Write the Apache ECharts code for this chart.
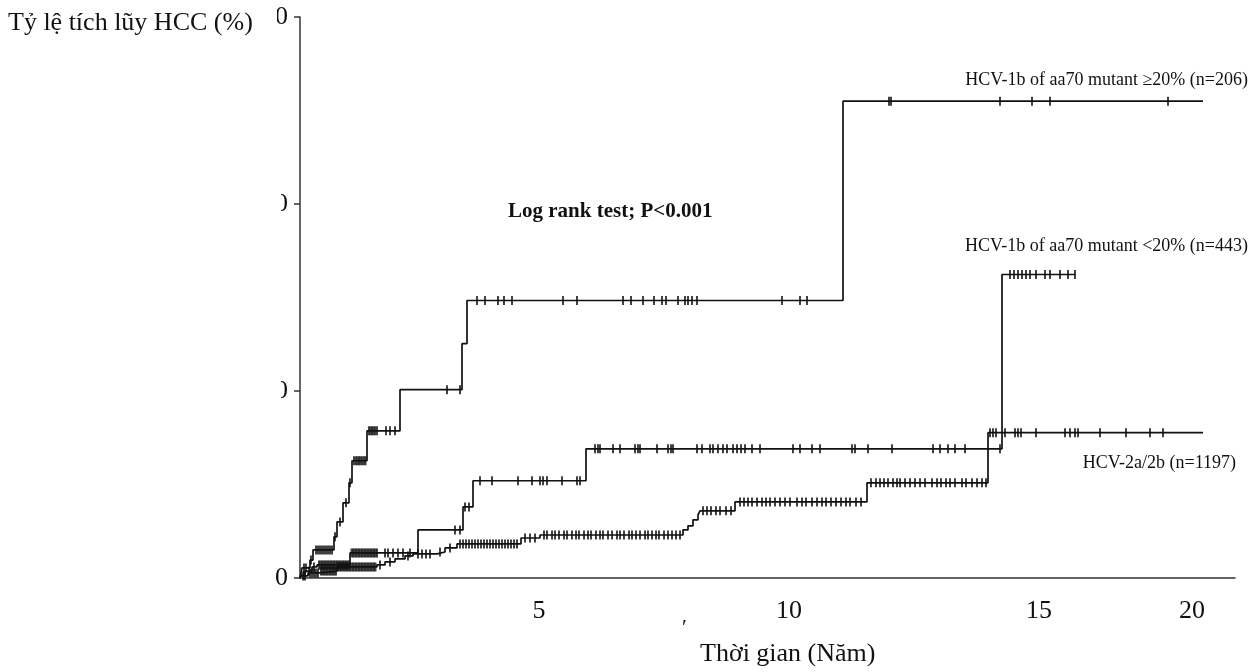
<!DOCTYPE html>
<html><head><meta charset="utf-8">
<script src="https://cdn.jsdelivr.net/npm/echarts@6/dist/echarts.min.js"></script>
<style>html,body{margin:0;padding:0;background:#fff}#c{width:1256px;height:672px}</style>
</head><body><div id="c"></div><script>
// ---- tick labels ----
const xTickValues = [5, 10, 15, 18.06];
const xTickLabels = ['5', '10', '15', '20'];
const yTickValues = [0, 10, 20, 30];

// ---- Kaplan-Meier steps (time in years, cumulative HCC %) ----
const stepTimeA = [0.22, 0.26, 0.42, 0.48, 0.90, 0.96, 1.08, 1.20, 1.26, 1.56, 2.22, 3.46, 3.56, 11.08, 18.28];
const stepPctA  = [0, 0.54, 0.96, 1.50, 2.20, 3.00, 4.02, 5.09, 6.27, 7.87, 10.07, 12.53, 14.84, 25.50, 25.50];

const stepTimeB = [0.22, 0.24, 0.32, 0.46, 0.56, 1.22, 2.58, 3.48, 3.68, 5.94, 14.26, 15.72];
const stepPctB  = [0, 0.16, 0.37, 0.59, 0.70, 1.34, 2.57, 3.80, 5.20, 6.91, 16.23, 16.23];

const stepTimeC = [0.22, 0.24, 0.38, 0.62, 0.96, 1.76, 1.92, 2.12, 2.32, 2.48, 2.96, 3.12, 3.36, 4.64, 5.02, 7.88, 7.98, 8.08, 8.18, 8.22, 8.92, 11.56, 13.98, 18.28];
const stepPctC  = [0, 0.11, 0.27, 0.37, 0.59, 0.70, 0.86, 1.02, 1.18, 1.29, 1.39, 1.61, 1.82, 2.14, 2.30, 2.57, 2.79, 3.11, 3.37, 3.59, 4.07, 5.09, 7.77, 7.77];

// ---- censored times ----
const censorA = [0.30, 0.34, 0.44, 0.54, 0.58, 0.62, 0.66, 0.70, 0.74, 0.78, 0.82, 0.86, 0.92, 1.02, 1.14, 1.22,
  1.30, 1.34, 1.37, 1.40, 1.43, 1.46, 1.50, 1.53,
  1.60, 1.63, 1.66, 1.69, 1.72, 1.76, 1.94, 2.02, 2.12, 3.16, 3.42,
  3.76, 3.92, 4.18, 4.30, 4.46, 5.48, 5.76, 6.68, 6.84, 7.08, 7.30, 7.46, 7.54, 7.78, 7.92, 7.98, 8.06, 8.16, 9.86, 10.22, 10.36,
  12.00, 12.04, 14.22, 14.86, 15.22, 17.58];
const censorB = [0.30, 0.40, 0.50, 0.60, 0.63, 0.66, 0.69, 0.72, 0.75, 0.78, 0.81, 0.84, 0.87, 0.90, 0.93, 0.96, 0.99, 1.02, 1.05, 1.08, 1.11, 1.14, 1.17, 1.20,
  1.25, 1.28, 1.31, 1.34, 1.37, 1.40, 1.43, 1.46, 1.49, 1.52, 1.55, 1.58, 1.61, 1.64, 1.67, 1.70, 1.73, 1.76, 1.92, 1.98, 2.08, 2.18, 2.28, 2.42,
  3.32, 3.42, 3.52, 3.60,
  3.82, 4.06, 4.58, 4.86, 5.02, 5.08, 5.16, 5.46, 5.76, 5.82,
  6.12, 6.18, 6.22, 6.48, 6.62, 6.92, 6.98, 7.02, 7.36, 7.58, 7.64, 7.68, 8.16, 8.26, 8.42, 8.48, 8.58, 8.68, 8.76, 8.88, 8.96, 9.04, 9.12, 9.26, 9.42,
  10.08, 10.22, 10.46, 10.62, 11.26, 11.32, 11.58, 12.06, 12.88, 13.02, 13.18, 13.32, 13.52, 14.22,
  14.42, 14.50, 14.58, 14.66, 14.74, 14.82, 14.94, 15.12, 15.22, 15.42, 15.58, 15.72];
const censorC = [0.28, 0.32, 0.42, 0.46, 0.50, 0.54, 0.58, 0.64, 0.67, 0.70, 0.73, 0.76, 0.79, 0.82, 0.85, 0.88, 0.91, 0.94,
  0.98, 1.01, 1.04, 1.07, 1.10, 1.13, 1.16, 1.19, 1.22, 1.25, 1.28, 1.31, 1.34, 1.37, 1.40, 1.43, 1.46, 1.49, 1.52, 1.55, 1.58, 1.61, 1.64, 1.67, 1.70, 1.73,
  1.82, 2.02, 2.38, 2.58, 2.66, 2.74, 2.82, 3.02, 3.22,
  3.42, 3.48, 3.54, 3.60, 3.66, 3.72, 3.78, 3.84, 3.90, 3.96, 4.02, 4.08, 4.14, 4.20, 4.26, 4.32, 4.38, 4.44, 4.50, 4.56,
  4.72, 4.82, 4.92,
  5.10, 5.16, 5.26, 5.32, 5.40, 5.50, 5.56, 5.66, 5.74, 5.80, 5.90, 5.98, 6.04, 6.14, 6.22, 6.28, 6.38, 6.46, 6.56, 6.62, 6.70, 6.80, 6.86, 6.94, 7.02, 7.12, 7.18, 7.26, 7.34, 7.40, 7.50, 7.58, 7.66, 7.74, 7.82,
  8.28, 8.36, 8.44, 8.54, 8.62, 8.74, 8.84,
  9.02, 9.10, 9.18, 9.26, 9.36, 9.46, 9.54, 9.62, 9.72, 9.82, 9.92, 10.02, 10.16, 10.26, 10.34, 10.46, 10.56, 10.66, 10.74, 10.84, 10.94, 11.04, 11.14, 11.22, 11.34, 11.44,
  11.64, 11.74, 11.82, 11.90, 11.98, 12.08, 12.16, 12.22, 12.32, 12.42, 12.52, 12.62, 12.72, 12.86, 12.96, 13.04, 13.14, 13.22, 13.32, 13.46, 13.54, 13.66, 13.76, 13.86, 13.94,
  14.02, 14.08, 14.14, 14.32, 14.52, 14.58, 14.64, 14.94, 15.52, 15.62, 15.72, 15.78, 16.22, 16.74, 17.22, 17.48];

const xMin = 0.22, xMax = 18.92;
const FONT = "'Liberation Serif', 'Times New Roman', serif";
const INK = '#111';

function pairs(ts, ys) { return ts.map((t, i) => [t, ys[i]]); }
function lookup(ts, ys, t) {
  let v = ys[0];
  for (let i = 0; i < ts.length; i++) { if (ts[i] <= t) v = ys[i]; }
  return v;
}
function censorPts(cs, ts, ys) { return cs.map(t => [t, lookup(ts, ys, t)]); }

function lineSeries(name, ts, ys) {
  return { name, type: 'line', step: 'end', data: pairs(ts, ys), showSymbol: false, symbol: 'none',
    lineStyle: { color: INK, width: 1.7 }, z: 3, clip: false };
}
function censorSeries(name, cs, ts, ys) {
  return { name, type: 'scatter', data: censorPts(cs, ts, ys), symbol: 'rect', symbolSize: [2, 9],
    itemStyle: { color: INK }, z: 4 };
}

const chart = echarts.init(document.getElementById('c'), null, { renderer: 'canvas' });
chart.setOption({
  animation: false,
  backgroundColor: '#fff',
  grid: { left: 300, right: 21, top: 17, bottom: 94 },
  xAxis: {
    type: 'value', min: xMin, max: xMax,
    splitLine: { show: false },
    axisLine: { show: true, lineStyle: { color: '#333', width: 1.5 } },
    axisTick: { show: false },
    axisLabel: {
      customValues: xTickValues,
      formatter: v => { const i = xTickValues.findIndex(x => Math.abs(x - v) < 1e-6); return i >= 0 ? xTickLabels[i] : ''; },
      fontFamily: FONT, fontSize: 26, color: INK, margin: 20
    }
  },
  yAxis: {
    type: 'value', min: 0, max: 30, interval: 10,
    splitLine: { show: false },
    axisLine: { show: true, lineStyle: { color: '#333', width: 1.5 } },
    axisTick: { show: true, inside: false, length: 6, lineStyle: { color: '#333', width: 1.5 } },
    axisLabel: { formatter: v => yTickValues.includes(v) ? String(v) : '', fontFamily: FONT, fontSize: 26, color: INK, margin: 12 }
  },
  series: [
    lineSeries('HCV-1b aa70 mutant ≥20%', stepTimeA, stepPctA),
    lineSeries('HCV-1b aa70 mutant <20%', stepTimeB, stepPctB),
    lineSeries('HCV-2a/2b', stepTimeC, stepPctC),
    censorSeries('censor A', censorA, stepTimeA, stepPctA),
    censorSeries('censor B', censorB, stepTimeB, stepPctB),
    censorSeries('censor C', censorC, stepTimeC, stepPctC)
  ],
  graphic: [
    { type: 'rect', z: 100, shape: { x: 0, y: 0, width: 277, height: 45 }, style: { fill: '#fff' } },
    { type: 'rect', z: 100, shape: { x: 0, y: 185, width: 281, height: 225 }, style: { fill: '#fff' } },
    { type: 'text', z: 101, x: 8, y: 23, style: { text: 'Tỷ lệ tích lũy HCC (%)', font: '26px ' + FONT, fill: INK, textVerticalAlign: 'middle' } },
    { type: 'text', z: 101, x: 700, y: 654, style: { text: 'Thời gian (Năm)', font: '26px ' + FONT, fill: INK, textVerticalAlign: 'middle' } },
    { type: 'text', z: 101, x: 682, y: 628, style: { text: '′', font: '22px ' + FONT, fill: INK, textVerticalAlign: 'middle' } },
    { type: 'text', z: 101, x: 1248, y: 80, style: { text: 'HCV-1b of aa70 mutant ≥20% (n=206)', font: '18px ' + FONT, fill: INK, textAlign: 'right', textVerticalAlign: 'middle' } },
    { type: 'text', z: 101, x: 1248, y: 246, style: { text: 'HCV-1b of aa70 mutant <20% (n=443)', font: '18px ' + FONT, fill: INK, textAlign: 'right', textVerticalAlign: 'middle' } },
    { type: 'text', z: 101, x: 1236, y: 463, style: { text: 'HCV-2a/2b (n=1197)', font: '18px ' + FONT, fill: INK, textAlign: 'right', textVerticalAlign: 'middle' } },
    { type: 'text', z: 101, x: 508, y: 212, style: { text: 'Log rank test; P<0.001', font: 'bold 21px ' + FONT, fill: INK, textVerticalAlign: 'middle' } }
  ]
});
</script></body></html>
